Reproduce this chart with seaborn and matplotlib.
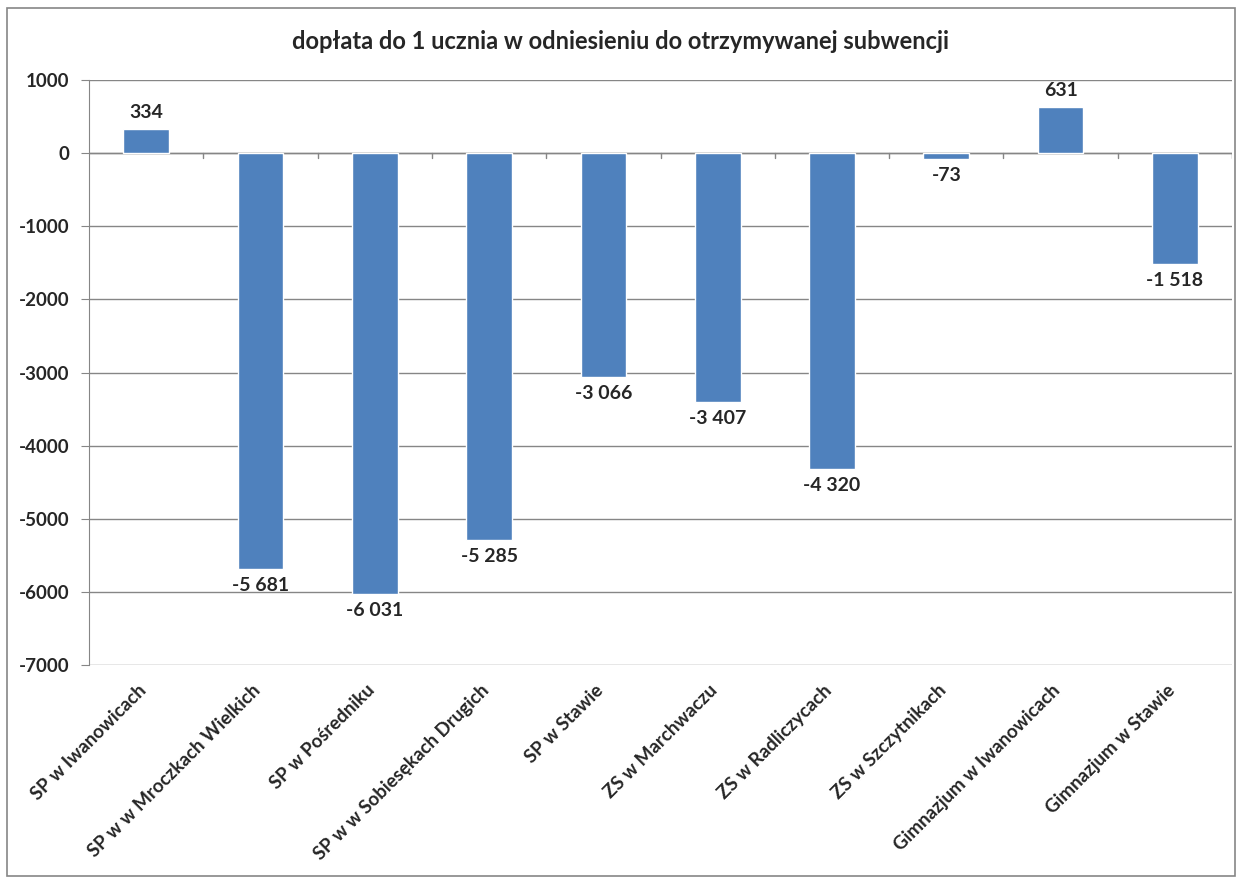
import matplotlib
matplotlib.use("Agg")
import matplotlib.pyplot as plt
import matplotlib.transforms as mtransforms
import seaborn as sns
import pandas as pd
import numpy as np
from matplotlib.patches import Rectangle

# ------------------------------------------------------------------------------
# Data
schools = [
    "SP w Iwanowicach", "SP w w Mroczkach Wielkich", "SP w Pośredniku",
    "SP w w Sobiesękach Drugich", "SP w Stawie", "ZS w Marchwaczu",
    "ZS w Radliczycach", "ZS w Szczytnikach", "Gimnazjum w Iwanowicach",
    "Gimnazjum w Stawie"
]
doplata = [334, -5681, -6031, -5285, -3066, -3407, -4320, -73, 631, -1518]

title = "dopłata do 1 ucznia w odniesieniu do otrzymywanej subwencji"
y_ticks = list(range(-7000, 1001, 1000))

df = pd.DataFrame({"szkola": schools, "doplata": doplata})

# ------------------------------------------------------------------------------
sns.set_style("white")
plt.rcParams["font.family"] = ["Lato", "DejaVu Sans"]
plt.rcParams["font.weight"] = "bold"

fig = plt.figure(figsize=(12.42, 8.81), dpi=100)
ax = fig.add_axes([0.0717, 0.2452, 0.9203, 0.6638])

# chart border
fig.patches.append(Rectangle((0.006, 0.006), 0.988, 0.985, transform=fig.transFigure,
                             fill=False, edgecolor="#868686", linewidth=1.2))

sns.barplot(data=df, x="szkola", y="doplata", color="#4F81BD", width=0.4,
            saturation=1, ax=ax, zorder=3)

ax.set_ylim(-7000, 1000)
ax.set_xlim(-0.5, len(schools) - 0.5)
ax.set_yticks(y_ticks)
ax.set_yticklabels([str(t) for t in y_ticks], fontsize=13.5, fontweight="bold")
ax.yaxis.grid(True, color="#868686", linewidth=1)
ax.set_axisbelow(True)
ax.set_xlabel("")
ax.set_ylabel("")

for s in ["top", "right", "bottom"]:
    ax.spines[s].set_visible(False)
ax.spines["left"].set_color("#868686")
ax.tick_params(axis="y", length=6, color="#868686", pad=8, left=True)

# x labels rotated
ax.set_xticks(range(len(schools)))
ax.set_xticklabels(schools, rotation=45, ha="right", va="top", rotation_mode="anchor",
                   fontsize=13.5, fontweight="bold")
ax.tick_params(axis="x", length=0, pad=12)
shift = mtransforms.ScaledTranslation(-9 / 100, 0, fig.dpi_scale_trans)
for lbl in ax.get_xticklabels():
    lbl.set_transform(lbl.get_transform() + shift)

# zero line and category separators
ax.axhline(0, color="#868686", linewidth=1, zorder=2)
for b in np.arange(0.5, len(schools) - 0.5, 1):
    ax.plot([b, b], [0, -70], color="#868686", linewidth=1, zorder=2)
ax.plot([len(schools) - 0.5] * 2, [0, -70], color="#868686", linewidth=1, zorder=2)


def fmt(v):
    s = f"{abs(v):,}".replace(",", " ")
    return ("-" if v < 0 else "") + s


for i, v in enumerate(doplata):
    if v >= 0:
        ax.text(i, v + 110, fmt(v), ha="center", va="bottom", fontsize=14,
                fontweight="bold")
    else:
        ax.text(i, v - 110, fmt(v), ha="center", va="top", fontsize=14,
                fontweight="bold")

fig.text(0.5, 0.953, title, ha="center", va="center", fontsize=17, fontweight="bold")

fig.savefig("out.png", dpi=100)
